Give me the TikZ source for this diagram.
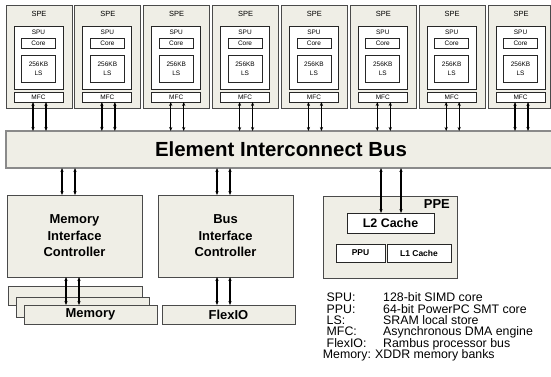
\documentclass[tikz,border=0pt]{standalone}
\usepackage{fontspec}
\setmainfont{Liberation Sans}
\usetikzlibrary{arrows.meta}
\definecolor{boxfill}{HTML}{EFEEE6}
\definecolor{boxline}{HTML}{4A4A4A}
\definecolor{busline}{HTML}{8A8A8A}
\tikzset{
  blk/.style={draw=boxline, fill=boxfill, line width=0.9bp, inner sep=0pt, outer sep=0pt, rectangle, anchor=north west},
  wbox/.style={draw=black!85, fill=white, line width=0.8bp, inner sep=0pt, outer sep=0pt, rectangle, anchor=north west},
  biarrow/.style={line width=1.3bp, {Stealth[length=4bp,width=3.2bp]}-{Stealth[length=4bp,width=3.2bp]}},
  tiny/.style={font=\fontsize{6.5}{7.5}\selectfont, inner sep=0pt, align=center},
  big/.style={font=\bfseries\fontsize{13}{16.5}\selectfont, align=center, inner sep=0pt},
  leg/.style={font=\fontsize{12.4}{12}\selectfont, inner sep=0pt, anchor=base west}
}
\begin{document}
\begin{tikzpicture}[x=1bp,y=-1bp]
\useasboundingbox (0,0) rectangle (551,376);
\clip (0,0) rectangle (551,376);
% Element Interconnect Bus
\node[draw=busline, fill=boxfill, line width=1.8bp, inner sep=0pt, outer sep=0pt, anchor=north west,
      minimum width=550bp, minimum height=37bp, font=\bfseries\fontsize{20.5}{22}\selectfont] (eib) at (6,131) {Element Interconnect Bus};
% SPEs
\foreach \i in {0,...,7}{
  \pgfmathsetmacro\L{6+\i*68.86}
  \pgfmathsetmacro\W{ifthenelse(\i==7,62.5,66)}
  \node[blk, minimum width=\W bp, minimum height=103bp] (spe\i) at (\L,5) {};
  \node[tiny, font=\fontsize{7.5}{8}\selectfont] (spel\i) at (\L+33,14) {SPE};
  \node[wbox, minimum width=49bp, minimum height=63bp] (spu\i) at (\L+8,26) {};
  \node[tiny] (spul\i) at (\L+32.5,32) {SPU};
  \node[wbox, minimum width=34bp, minimum height=10bp] (core\i) at (\L+15.5,38) {};
  \node[tiny] (corel\i) at (core\i.center) {Core};
  \node[wbox, minimum width=34bp, minimum height=27bp] (ls\i) at (\L+15.5,55) {};
  \node[tiny] (lsl\i) at (ls\i.center) {256KB\\[1.5bp]LS};
  \node[wbox, minimum width=49bp, minimum height=10bp] (mfc\i) at (\L+8,92) {};
  \node[tiny] (mfcl\i) at (mfc\i.center) {MFC};
  \draw[biarrow] ([xshift=19bp]mfc\i.south west) -- ([xshift=19bp]mfc\i.south west |- eib.north);
  \draw[biarrow] ([xshift=32bp]mfc\i.south west) -- ([xshift=32bp]mfc\i.south west |- eib.north);
}
% Memory Interface Controller
\node[blk, minimum width=135bp, minimum height=82bp] (mic) at (7,195) {};
\node[big] (micl) at (mic.center) {Memory\\Interface\\Controller};
% Bus Interface Controller
\node[blk, minimum width=135bp, minimum height=82bp] (bic) at (158,195) {};
\node[big] (bicl) at (bic.center) {Bus\\Interface\\Controller};
% Memory stack
\node[blk, minimum width=134bp, minimum height=19bp] (mem1) at (8,286) {};
\node[blk, minimum width=133bp, minimum height=20bp] (mem2) at (16,297) {};
\node[blk, minimum width=133bp, minimum height=19bp, font=\bfseries\fontsize{13}{15}\selectfont] (mem3) at (24,305) {Memory};
% FlexIO
\node[blk, minimum width=133bp, minimum height=19bp, font=\bfseries\fontsize{13}{15}\selectfont] (flex) at (162,305) {FlexIO};
% PPE
\node[blk, minimum width=134bp, minimum height=82bp] (ppe) at (323,196) {};
\node[font=\bfseries\fontsize{13}{14}\selectfont, inner sep=0pt, anchor=north east] (ppel) at (450,199.5) {PPE};
\node[wbox, minimum width=87bp, minimum height=20bp, font=\bfseries\fontsize{12.5}{14}\selectfont] (l2) at (347,213) {L2 Cache};
\node[wbox, minimum width=49bp, minimum height=18bp, font=\bfseries\fontsize{8.5}{10}\selectfont] (ppu) at (336,244) {PPU};
\node[wbox, minimum width=64bp, minimum height=18bp, font=\bfseries\fontsize{8.5}{10}\selectfont] (l1) at (387,244) {L1 Cache};
% connectors EIB <-> lower blocks
\foreach \dx in {55,68}{
  \draw[biarrow] ([xshift=\dx bp]mic.north west |- eib.south) -- ([xshift=\dx bp]mic.north west);
}
\foreach \dx in {59,72}{
  \draw[biarrow] ([xshift=\dx bp]mic.south west) -- ([xshift=\dx bp]mic.south west |- mem3.north);
}
\foreach \dx in {59,72}{
  \draw[biarrow] ([xshift=\dx bp]bic.north west |- eib.south) -- ([xshift=\dx bp]bic.north west);
  \draw[biarrow] ([xshift=\dx bp]bic.south west) -- ([xshift=\dx bp]bic.south west |- flex.north);
}
\foreach \dx in {34,54}{
  \draw[biarrow] ([xshift=\dx bp]l2.north west |- eib.south) -- ([xshift=\dx bp]l2.north west);
}
% Legend
\node[leg] (k1) at (326.5,301.7) {SPU:};
\node[leg] (v1) at (383,301.7) {128-bit SIMD core};
\node[leg] (k2) at (326.5,313) {PPU:};
\node[leg] (v2) at (383,313) {64-bit PowerPC SMT core};
\node[leg] (k3) at (326.5,324.3) {LS:};
\node[leg] (v3) at (383,324.3) {SRAM local store};
\node[leg] (k4) at (326.5,335.7) {MFC:};
\node[leg] (v4) at (383,335.7) {Asynchronous DMA engine};
\node[leg] (k5) at (326.5,347) {FlexIO:};
\node[leg] (v5) at (383,347) {Rambus processor bus};
\node[leg] (k6) at (322.7,358.3) {Memory:};
\node[leg] (v6) at (375,358.3) {XDDR memory banks};
\end{tikzpicture}
\end{document}
